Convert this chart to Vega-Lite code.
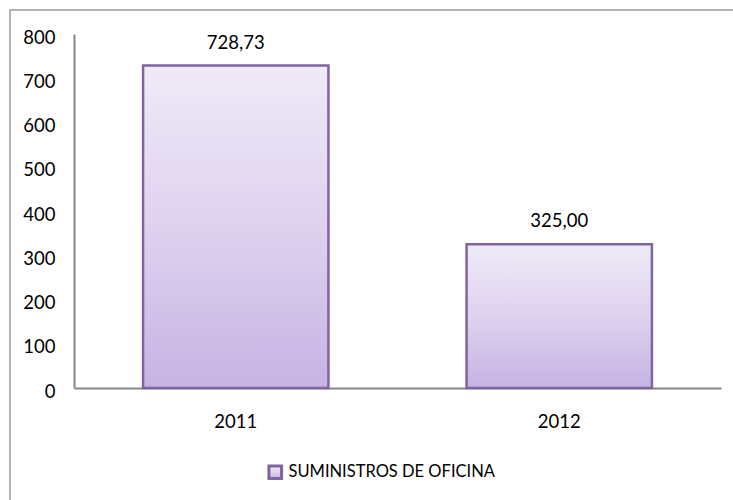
{
  "$schema": "https://vega.github.io/schema/vega-lite/v6.json",
  "autosize": "none",
  "padding": {"left": 10, "top": 10, "right": 0, "bottom": 0},
  "width": 730,
  "height": 495,
  "background": "white",
  "data": {"values": [
    {"year": "2011", "value": 728.73, "serie": "SUMINISTROS DE OFICINA"},
    {"year": "2012", "value": 325.00, "serie": "SUMINISTROS DE OFICINA"}
  ]},
  "encoding": {
    "x": {
      "field": "year", "type": "nominal", "title": null,
      "scale": {"range": [64, 711], "paddingInner": 0.427, "paddingOuter": 0.2135},
      "axis": {
        "orient": "bottom", "offset": -117, "labelAngle": 0, "ticks": false, "grid": false,
        "domainColor": "#868686", "domainWidth": 2,
        "labelFont": "Lato", "labelFontSize": 18.5, "labelColor": "#000000", "labelPadding": 24
      }
    },
    "y": {
      "field": "value", "type": "quantitative", "title": null,
      "scale": {"domain": [0, 800], "range": [378, 24], "nice": false, "zero": true},
      "axis": {
        "orient": "left", "offset": -64, "values": [0, 100, 200, 300, 400, 500, 600, 700, 800],
        "ticks": false, "grid": false, "domainColor": "#868686", "domainWidth": 2,
        "labelFont": "Lato", "labelFontSize": 18.5, "labelColor": "#000000", "labelPadding": 19,
        "labelOffset": 3
      }
    }
  },
  "layer": [
    {
      "mark": {
        "type": "bar", "strokeWidth": 2.5,
        "fill": {
          "gradient": "linear", "x1": 0, "y1": 0, "x2": 0, "y2": 1,
          "stops": [
            {"offset": 0, "color": "#EFEAF7"},
            {"offset": 0.5, "color": "#DED2EF"},
            {"offset": 1, "color": "#C6B3E3"}
          ]
        }
      },
      "encoding": {
        "stroke": {
          "field": "serie", "type": "nominal",
          "scale": {"range": ["#8064A2"]},
          "legend": {
            "title": null, "orient": "none", "legendX": 257, "legendY": 454,
            "padding": 0, "symbolType": "square", "symbolSize": 160,
            "symbolStrokeWidth": 3, "symbolFillColor": "#D8CCEC",
            "labelFont": "Lato", "labelFontSize": 16.5, "labelColor": "#000000", "labelOffset": 5,
            "labelLimit": 0
          }
        }
      }
    },
    {
      "mark": {"type": "text", "baseline": "bottom", "dy": -13, "font": "Lato", "fontSize": 18.5, "color": "#000000"},
      "encoding": {
        "text": {"field": "value", "type": "quantitative", "format": ".2f"}
      }
    }
  ],
  "config": {
    "view": {"stroke": "#9A9A9A", "strokeWidth": 1.5},
    "locale": {"number": {"decimal": ",", "thousands": ".", "grouping": [3], "currency": ["", " €"]}}
  }
}
